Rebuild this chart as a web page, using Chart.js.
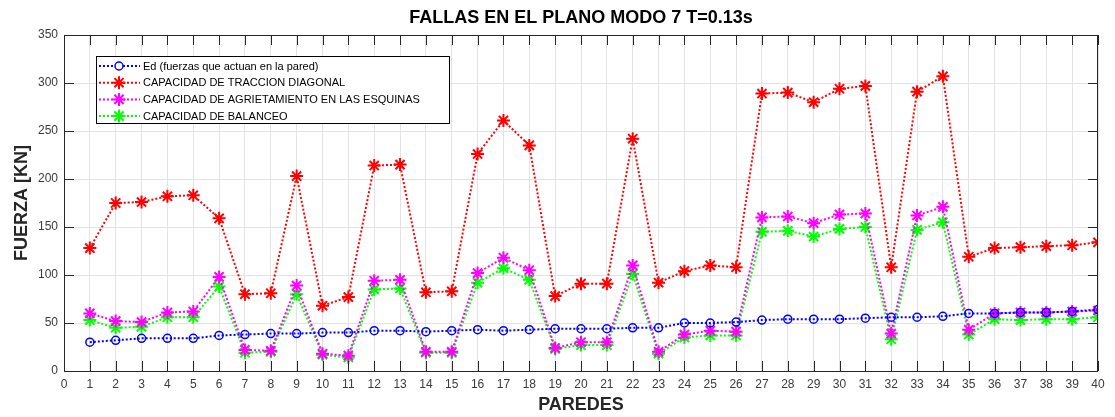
<!DOCTYPE html>
<html>
<head>
<meta charset="utf-8">
<script src="https://cdn.jsdelivr.net/npm/chart.js@4"></script>
<style>
  html, body { margin: 0; padding: 0; background: #fff; }
  #wrap { width: 1115px; height: 417px; }
</style>
</head>
<body>
<div id="wrap"><canvas id="fallas" width="1115" height="417"></canvas></div>
<script>
// datos
const paredes = [1, 2, 3, 4, 5, 6, 7, 8, 9, 10, 11, 12, 13, 14, 15, 16, 17, 18, 19, 20,
                 21, 22, 23, 24, 25, 26, 27, 28, 29, 30, 31, 32, 33, 34, 35, 36, 37, 38, 39, 40];
const ed = [30, 32, 34, 34, 34, 37, 38, 39, 39, 40, 40, 42, 42, 41, 42, 43, 42, 43, 44, 44,
            44, 45, 45, 50, 50, 51, 53, 54, 54, 54, 55, 56, 56, 57, 60, 60, 61, 61, 62, 64];
const traccion = [128, 175, 176, 182, 183, 159, 80, 81, 203, 68, 77, 214, 215, 82, 83, 226, 261, 235, 78, 91,
                  91, 242, 92, 104, 110, 108, 289, 290, 280, 294, 297, 108, 291, 307, 119, 128, 129, 130, 131, 134];
const esquinas = [60, 52, 51, 61, 62, 98, 22, 21, 89, 18, 16, 94, 95, 20, 20, 102, 118, 105, 24, 30,
                  30, 110, 20, 38, 42, 41, 160, 161, 154, 163, 164, 39, 162, 171, 43, 60, 61, 61, 62, 63];
const balanceo = [53, 45, 46, 56, 56, 88, 19, 20, 80, 17, 14, 85, 86, 19, 19, 92, 107, 95, 23, 27,
                  27, 101, 18, 35, 37, 37, 145, 146, 140, 148, 150, 33, 147, 155, 38, 54, 53, 54, 54, 56];
const yTicks = [0, 50, 100, 150, 200, 250, 300, 350];

const FONT = 'Helvetica, Arial, "Liberation Sans", sans-serif';
const AXIS = '#262626';
const LABEL = '#3a3a3a';

function serie(label, values, color, style, radius, width) {
  return {
    label,
    data: paredes.map((p, i) => ({ x: p, y: values[i] })),
    borderColor: color,
    borderWidth: 2,
    borderDash: [2, 2],
    pointStyle: style,
    pointRadius: radius,
    pointHoverRadius: radius,
    pointBorderColor: color,
    pointBackgroundColor: 'rgba(0,0,0,0)',
    pointBorderWidth: width,
    tension: 0,
    fill: false
  };
}

// caja de ejes, marcas hacia adentro, titulo y leyenda dentro del area
const cajaMatlab = {
  id: 'cajaMatlab',
  afterDraw(chart) {
    const { ctx, chartArea: a, scales: { x, y } } = chart;
    ctx.save();
    ctx.strokeStyle = AXIS;
    ctx.lineWidth = 1;
    ctx.setLineDash([]);
    ctx.strokeRect(a.left + 0.5, a.top + 0.5, a.right - a.left - 1, a.bottom - a.top);
    ctx.beginPath();
    for (let t = 0; t <= 40; t++) {
      const px = Math.round(x.getPixelForValue(t)) + 0.5;
      ctx.moveTo(px, a.bottom); ctx.lineTo(px, a.bottom - 10);
      ctx.moveTo(px, a.top); ctx.lineTo(px, a.top + 10);
    }
    yTicks.forEach(t => {
      const py = Math.round(y.getPixelForValue(t)) + 0.5;
      ctx.moveTo(a.left, py); ctx.lineTo(a.left + 10, py);
      ctx.moveTo(a.right, py); ctx.lineTo(a.right - 10, py);
    });
    ctx.stroke();

    // titulo
    ctx.fillStyle = '#000';
    ctx.font = 'bold 18px ' + FONT;
    ctx.textAlign = 'center';
    ctx.textBaseline = 'middle';
    ctx.fillText('FALLAS EN EL PLANO MODO 7 T=0.13s', (a.left + a.right) / 2, 18.5);

    // leyenda
    const bx = 96.5, by = 56.5, bw = 353, bh = 67;
    ctx.fillStyle = '#fff';
    ctx.fillRect(bx, by, bw, bh);
    ctx.strokeStyle = '#000';
    ctx.strokeRect(bx, by, bw, bh);
    ctx.font = '11px ' + FONT;
    ctx.textAlign = 'left';
    chart.data.datasets.forEach((ds, i) => {
      const ly = 66 + i * 16.7;
      ctx.strokeStyle = ds.borderColor;
      ctx.lineWidth = 2;
      ctx.setLineDash([2, 2]);
      ctx.beginPath();
      ctx.moveTo(99, ly); ctx.lineTo(140, ly);
      ctx.stroke();
      ctx.setLineDash([]);
      ctx.lineWidth = ds.pointBorderWidth;
      Chart.helpers.drawPoint(ctx, { pointStyle: ds.pointStyle, radius: ds.pointRadius, rotation: 0, borderWidth: ds.pointBorderWidth }, 119, ly);
      ctx.fillStyle = '#000';
      ctx.fillText(ds.label, 143, ly + 0.5);
    });
    ctx.restore();
  }
};

new Chart(document.getElementById('fallas'), {
  type: 'line',
  data: {
    datasets: [
      serie('Ed (fuerzas que actuan en la pared)', ed, '#0000ff', 'circle', 4, 1.5),
      serie('CAPACIDAD DE TRACCION DIAGONAL', traccion, '#ff0000', 'star', 6.5, 2),
      serie('CAPACIDAD DE AGRIETAMIENTO EN LAS ESQUINAS', esquinas, '#ff00ff', 'star', 6.5, 2),
      serie('CAPACIDAD DE BALANCEO', balanceo, '#00ff00', 'star', 6.5, 2)
    ]
  },
  options: {
    responsive: false,
    animation: false,
    layout: { padding: { top: 35, right: 17, left: 0, bottom: 0 } },
    plugins: {
      legend: { display: false },
      title: { display: false },
      tooltip: { enabled: false }
    },
    scales: {
      x: {
        type: 'linear',
        min: 0,
        max: 40,
        afterFit: s => { s.height = 46; },
        grid: { color: '#e3e3e3', drawTicks: false },
        border: { display: false },
        ticks: { stepSize: 1, padding: 6, color: LABEL, font: { family: FONT, size: 12 }, maxRotation: 0, autoSkip: false },
        title: { display: true, text: 'PAREDES', color: AXIS, font: { family: FONT, size: 18, weight: 'bold' }, padding: { bottom: 1 } }
      },
      y: {
        min: 0,
        max: 350,
        afterFit: s => { s.width = 64; },
        afterBuildTicks: s => { s.ticks = yTicks.map(v => ({ value: v })); },
        grid: { color: '#e3e3e3', drawTicks: false },
        border: { display: false },
        ticks: { padding: 6, color: LABEL, font: { family: FONT, size: 12 } },
        title: { display: true, text: 'FUERZA [KN]', color: AXIS, font: { family: FONT, size: 18, weight: 'bold' }, padding: { top: 11 } }
      }
    }
  },
  plugins: [cajaMatlab]
});
</script>
</body>
</html>
